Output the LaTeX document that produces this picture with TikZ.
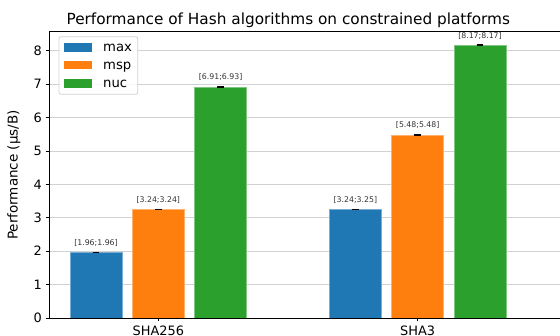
\documentclass[tikz,border=0pt]{standalone}
\usepackage{fontspec}
\setmainfont{DejaVu Sans}
\definecolor{tabblue}{HTML}{1F77B4}
\definecolor{taborange}{HTML}{FF7F0E}
\definecolor{tabgreen}{HTML}{2CA02C}
\begin{document}
\begin{tikzpicture}[x=1pt,y=-1pt,
  spine/.style={black,line width=0.9pt},
  gridline/.style={black!18,line width=0.8pt},
  tickmark/.style={black,line width=0.8pt},
  ticklabel/.style={font=\fontsize{12.9}{15}\selectfont,inner sep=0pt},
  barlabel/.style={font=\fontsize{7.8}{9}\selectfont,text=black!80,inner sep=0pt,anchor=base},
  errbar/.style={black,line width=1.4pt},
  barstyle/.style={fill=#1,draw=#1!60!white,line width=0.6pt},
  legendtext/.style={font=\fontsize{13.2}{15}\selectfont,inner sep=0pt,anchor=base west}]
\useasboundingbox (0,0) rectangle (560,336);
% value-to-pixel mapping: y = 318 - 33.4 v
\def\Y#1{{318-33.4*(#1)}}

% horizontal grid
\foreach \v in {1,...,8}
  \draw[gridline] (49,\Y{\v}) -- (560,\Y{\v});

% bars: \perfbar{left}{value}{low}{high}{colour}{label}
\newcommand{\perfbar}[6]{%
  \fill[barstyle=#5] (#1,318) rectangle (#1+52,\Y{#2});
  \draw[errbar] (#1+22.7,\Y{#3}) -- (#1+29.3,\Y{#3});
  \draw[errbar] (#1+22.7,\Y{#4}) -- (#1+29.3,\Y{#4});
  \node[barlabel] at (#1+26,{318-33.4*(#4)-7.0}) {#6};}
\perfbar{70}{1.96}{1.96}{1.96}{tabblue}{[1.96;1.96]}
\perfbar{132.3}{3.24}{3.24}{3.24}{taborange}{[3.24;3.24]}
\perfbar{194.6}{6.92}{6.91}{6.93}{tabgreen}{[6.91;6.93]}
\perfbar{329.4}{3.245}{3.24}{3.25}{tabblue}{[3.24;3.25]}
\perfbar{391.7}{5.48}{5.48}{5.48}{taborange}{[5.48;5.48]}
\perfbar{454}{8.17}{8.17}{8.17}{tabgreen}{[8.17;8.17]}

% spines
\draw[spine] (49,31) -- (560,31);
\draw[spine] (49,31) -- (49,318) -- (560,318);

% y ticks and labels
\foreach \v in {0,...,8}{
  \draw[tickmark] (45.5,\Y{\v}) -- (49,\Y{\v});
  \node[ticklabel,anchor=east] (yt\v) at (42,\Y{\v}) {\v};
}
% x ticks and labels
\draw[tickmark] (158.3,318) -- (158.3,321.5);
\draw[tickmark] (417.7,318) -- (417.7,321.5);
\node[ticklabel,anchor=base] (xa) at (158.3,335.6) {SHA256};
\node[ticklabel,anchor=base] (xb) at (417.7,335.6) {SHA3};

% axis label and title
\node[ticklabel,font=\fontsize{13.5}{15}\selectfont,rotate=90] (ylab) at (14,175) {Performance (µs/B)};
\node[font=\fontsize{15.3}{18}\selectfont,inner sep=0pt,anchor=base] (title) at (288.3,25) {Performance of Hash algorithms on constrained platforms};

% legend
\draw[black!18,fill=white,fill opacity=0.85,rounded corners=2pt,line width=0.8pt] (59,36.7) rectangle (137.7,94.3);
\fill[tabblue] (64.3,43.3) rectangle (92.3,51.7);
\fill[taborange] (64.3,61) rectangle (92.3,69.4);
\fill[tabgreen] (64.3,79.3) rectangle (92.3,87.7);
\node[legendtext] (lmax) at (103,51.6) {max};
\node[legendtext] (lmsp) at (103,69.3) {msp};
\node[legendtext] (lnuc) at (103,87.6) {nuc};
\end{tikzpicture}
\end{document}
